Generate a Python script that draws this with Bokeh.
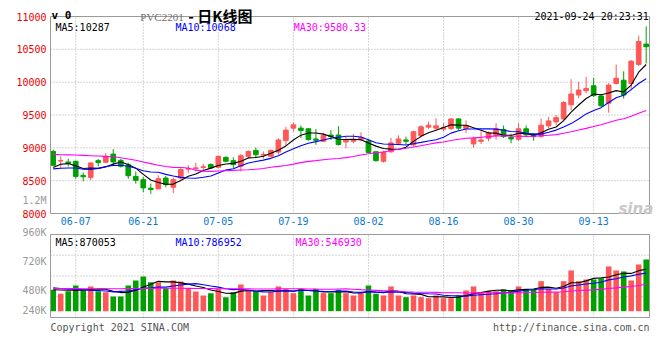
from bokeh.plotting import figure
from bokeh.layouts import column
from bokeh.models import (Range1d, FixedTicker, Label, ColumnDataSource, BoxAnnotation,
                          LinearAxis)
from bokeh.embed import file_html
from bokeh.resources import INLINE

# ---------------- data ----------------
dates = ["06-02", "06-03", "06-04", "06-07", "06-08", "06-09", "06-10", "06-11", "06-15", "06-16",
         "06-17", "06-18", "06-21", "06-22", "06-23", "06-24", "06-25", "06-28", "06-29", "06-30",
         "07-01", "07-02", "07-05", "07-06", "07-07", "07-08", "07-09", "07-12", "07-13", "07-14",
         "07-15", "07-16", "07-19", "07-20", "07-21", "07-22", "07-23", "07-26", "07-27", "07-28",
         "07-29", "07-30", "08-02", "08-03", "08-04", "08-05", "08-06", "08-09", "08-10", "08-11",
         "08-12", "08-13", "08-16", "08-17", "08-18", "08-19", "08-20", "08-23", "08-24", "08-25",
         "08-26", "08-27", "08-30", "08-31", "09-01", "09-02", "09-03", "09-06", "09-07", "09-08",
         "09-09", "09-10", "09-13", "09-14", "09-15", "09-16", "09-17", "09-22", "09-23", "09-24"]

opens = [8945, 8800, 8785, 8795, 8580, 8550, 8805, 8780, 8905, 8810,
         8740, 8565, 8515, 8385, 8375, 8540, 8400, 8540, 8675, 8685,
         8700, 8745, 8705, 8855, 8805, 8720, 8870, 8960, 8890, 8870,
         8935, 9110, 9300, 9300, 9290, 9135, 9100, 9195, 9195, 9090,
         9100, 9125, 9105, 8940, 8795, 8940, 9070, 9120, 9045, 9185,
         9315, 9300, 9285, 9295, 9440, 9295, 9060, 9100, 9145, 9190,
         9280, 9160, 9130, 9290, 9210, 9175, 9335, 9395, 9440, 9655,
         9805, 9870, 9945, 9790, 9680, 9980, 10030, 9980, 10270, 10580]

highs = [8970, 8870, 8835, 8805, 8625, 8775, 8830, 8920, 8980, 8830,
         8770, 8640, 8555, 8455, 8580, 8570, 8545, 8690, 8735, 8770,
         8755, 8765, 8880, 8870, 8855, 8905, 8960, 9005, 8945, 8975,
         9145, 9320, 9385, 9340, 9300, 9285, 9230, 9270, 9330, 9170,
         9210, 9235, 9130, 8950, 8955, 9150, 9190, 9170, 9260, 9345,
         9400, 9450, 9375, 9450, 9450, 9415, 9170, 9250, 9250, 9375,
         9340, 9215, 9375, 9340, 9225, 9445, 9470, 9500, 9710, 10045,
         10005, 10080, 10065, 9820, 9985, 10270, 10165, 10335, 10710, 10850]

lows = [8720, 8695, 8715, 8530, 8490, 8505, 8720, 8775, 8730, 8700,
        8530, 8455, 8325, 8300, 8370, 8400, 8310, 8520, 8615, 8640,
        8650, 8680, 8690, 8780, 8690, 8640, 8840, 8855, 8835, 8850,
        8895, 9030, 9250, 9150, 9110, 9045, 9090, 9120, 9035, 8995,
        9070, 9100, 8915, 8790, 8775, 8925, 9050, 9050, 9020, 9160,
        9290, 9265, 9255, 9270, 9275, 9225, 9000, 9060, 9100, 9125,
        9150, 9070, 9110, 9180, 9110, 9150, 9300, 9345, 9425, 9575,
        9755, 9830, 9775, 9615, 9535, 9965, 9750, 9875, 10245, 10285]

closes = [8735, 8805, 8765, 8565, 8560, 8770, 8775, 8870, 8785, 8720,
          8575, 8505, 8390, 8365, 8530, 8440, 8515, 8670, 8685, 8695,
          8712, 8695, 8870, 8795, 8745, 8880, 8945, 8895, 8900, 8960,
          9120, 9270, 9350, 9265, 9125, 9115, 9190, 9170, 9050, 9115,
          9120, 9160, 8930, 8805, 8935, 9075, 9135, 9100, 9245, 9320,
          9345, 9335, 9310, 9440, 9300, 9340, 9140, 9120, 9230, 9290,
          9170, 9135, 9290, 9200, 9170, 9345, 9410, 9460, 9690, 9820,
          9880, 9905, 9795, 9640, 9955, 10060, 9805, 10320, 10620, 10540]

volumes = [444000, 361000, 415000, 533000, 430000, 513000, 415000, 394000, 305000, 305000,
           533000, 637000, 720000, 602000, 602000, 477000, 637000, 616000, 477000, 409000,
           326000, 374000, 465000, 291000, 394000, 554000, 444000, 415000, 326000, 394000,
           513000, 465000, 374000, 465000, 326000, 465000, 374000, 374000, 444000, 374000,
           326000, 374000, 533000, 361000, 326000, 513000, 326000, 291000, 326000, 291000,
           270000, 326000, 270000, 270000, 326000, 430000, 513000, 394000, 415000, 415000,
           450000, 430000, 513000, 450000, 450000, 623000, 465000, 394000, 623000, 845000,
           623000, 658000, 658000, 685000, 928000, 845000, 824000, 637000, 969000, 1073000]

ma5 = [8700, 8750, 8760, 8725, 8686, 8693, 8687, 8708, 8752, 8784,
       8745, 8691, 8595, 8511, 8473, 8446, 8448, 8504, 8568, 8601,
       8655, 8691, 8731, 8753, 8763, 8797, 8847, 8852, 8873, 8916,
       8964, 9029, 9120, 9193, 9226, 9225, 9209, 9173, 9130, 9128,
       9129, 9123, 9075, 9026, 8990, 8981, 8976, 9010, 9098, 9175,
       9229, 9269, 9311, 9350, 9346, 9345, 9306, 9268, 9226, 9224,
       9190, 9189, 9223, 9217, 9193, 9228, 9283, 9317, 9415, 9545,
       9652, 9751, 9818, 9808, 9835, 9871, 9851, 9956, 10152, 10269]

ma10 = [8680, 8690, 8692, 8692, 8675, 8672, 8687, 8715, 8730, 8735,
        8719, 8689, 8652, 8632, 8629, 8596, 8570, 8550, 8540, 8537,
        8551, 8570, 8618, 8661, 8682, 8726, 8769, 8792, 8813, 8840,
        8881, 8938, 8986, 9033, 9071, 9095, 9119, 9147, 9162, 9177,
        9177, 9166, 9124, 9078, 9059, 9055, 9050, 9043, 9062, 9083,
        9105, 9123, 9161, 9224, 9261, 9287, 9288, 9290, 9288, 9285,
        9268, 9248, 9246, 9222, 9209, 9209, 9236, 9270, 9316, 9369,
        9440, 9517, 9568, 9612, 9690, 9762, 9801, 9887, 9980, 10052]

ma30 = [8900, 8895, 8893, 8890, 8885, 8880, 8875, 8870, 8865, 8850,
        8830, 8810, 8785, 8760, 8735, 8715, 8702, 8700, 8692, 8660,
        8645, 8641, 8648, 8652, 8656, 8662, 8667, 8673, 8685, 8704,
        8717, 8732, 8752, 8775, 8794, 8805, 8819, 8829, 8838, 8851,
        8869, 8891, 8909, 8924, 8937, 8959, 8979, 8994, 9012, 9033,
        9054, 9076, 9090, 9112, 9130, 9146, 9152, 9160, 9171, 9182,
        9183, 9179, 9177, 9175, 9176, 9184, 9191, 9201, 9222, 9246,
        9271, 9296, 9325, 9352, 9386, 9419, 9442, 9482, 9528, 9569]

vma5 = [445000, 440000, 435000, 436000, 437000, 450000, 461000, 457000, 411000, 386000,
        390000, 435000, 500000, 559000, 619000, 608000, 608000, 587000, 562000, 523000,
        493000, 440000, 410000, 373000, 370000, 416000, 430000, 420000, 427000, 427000,
        418000, 423000, 414000, 442000, 429000, 419000, 401000, 401000, 397000, 406000,
        378000, 378000, 410000, 394000, 384000, 421000, 412000, 363000, 356000, 349000,
        301000, 301000, 297000, 285000, 292000, 324000, 362000, 387000, 416000, 433000,
        437000, 421000, 445000, 452000, 459000, 493000, 500000, 476000, 511000, 590000,
        590000, 629000, 681000, 694000, 710000, 755000, 788000, 784000, 841000, 870000]

vma10 = [486000, 470000, 456000, 456000, 445000, 430000, 430000, 420000, 400000, 412000,
         420000, 448000, 479000, 485000, 503000, 499000, 521000, 543000, 561000, 571000,
         550000, 524000, 499000, 467000, 447000, 454000, 435000, 415000, 400000, 398000,
         417000, 426000, 417000, 434000, 428000, 419000, 412000, 408000, 419000, 417000,
         399000, 390000, 406000, 395000, 395000, 400000, 395000, 387000, 375000, 367000,
         361000, 356000, 330000, 321000, 321000, 313000, 331000, 342000, 351000, 363000,
         381000, 391000, 416000, 434000, 446000, 465000, 461000, 461000, 481000, 524000,
         542000, 564000, 579000, 602000, 650000, 672000, 708000, 733000, 767000, 790000]

vma30 = [470000, 470000, 468000, 468000, 466000, 466000, 465000, 465000, 465000, 466000,
         468000, 470000, 472000, 474000, 476000, 476000, 476000, 475000, 474000, 472000,
         470000, 468000, 466000, 465000, 464000, 463000, 462000, 461000, 460000, 460000,
         463000, 466000, 465000, 462000, 459000, 457000, 456000, 455000, 460000, 462000,
         455000, 447000, 440000, 432000, 423000, 424000, 414000, 403000, 398000, 394000,
         392000, 391000, 384000, 383000, 381000, 377000, 379000, 379000, 382000, 382000,
         380000, 379000, 384000, 383000, 387000, 393000, 396000, 396000, 402000, 418000,
         428000, 437000, 442000, 452000, 472000, 483000, 500000, 512000, 533000, 559000]

date_labels = ["06-07", "06-21", "07-05", "07-19", "08-02", "08-16", "08-30", "09-13"]
price_ticks = [8000, 8500, 9000, 9500, 10000, 10500, 11000]
vol_tick_labels = ["960K", "720K", "480K", "240K"]

title_code = "PVC2201"
title_cn = "- 日K线图"
stamp = "2021-09-24 20:23:31"
price_ma_text = ["MA5:10287", "MA10:10068", "MA30:9580.33"]
vol_ma_text = ["MA5:870053", "MA10:786952", "MA30:546930"]

# ---------------- styles / layout ----------------
RED = "#ff5757"
GREEN = "#00a000"
GRID = "#aaaaaa"
FRAME = "#9a9a9a"
MONO = "DejaVu Sans Mono"
MA_COLORS = ["#000000", "#0000ff", "#ff00ff"]
W = 657

n = len(dates)
xs = list(range(n))
colors = [RED if c >= o else GREEN for o, c in zip(opens, closes)]
src = ColumnDataSource(dict(
    x=xs, o=opens, h=highs, l=lows, c=closes,
    top=[max(o, c) for o, c in zip(opens, closes)],
    bot=[min(o, c) for o, c in zip(opens, closes)],
    color=colors, vol=volumes,
    ma5=ma5, ma10=ma10, ma30=ma30, vma5=vma5, vma10=vma10, vma30=vma30))
tick_idx = [dates.index(d) for d in date_labels]

# panel boxes span x = 50..649 px; the frames cover the whole canvas
X0, X1 = -0.36, 79.44
PX = 599.0 / (X1 - X0)
xr = Range1d(X0 - 50 / PX, X0 + (W - 50) / PX)

# price panel: box 197 px tall, 16 px header above it, 13 px (date row) below
P_LO, P_HI = 8000, 11000
PPX = (P_HI - P_LO) / 197.0
yr1 = Range1d(P_LO - 13 * PPX, P_HI + 16 * PPX)

# volume panel: box 83 px tall, 8 px above it, 18 px (footer) below
V_LO, V_HI = -131000, 1591000
VPX = (V_HI - V_LO) / 83.0
yr2 = Range1d(V_LO - 18 * VPX, V_HI + 8 * VPX)
vol_label_px = [-3.5, 26.8, 56.0, 76.0]  # label centres, px below the box top
vol_label_pos = [V_HI - d * VPX for d in vol_label_px]


def axis_style(ax, color, standoff=4):
    ax.axis_line_color = None
    ax.major_tick_line_color = None
    ax.minor_tick_line_color = None
    ax.major_tick_out = 0
    ax.major_tick_in = 0
    ax.major_label_text_font = MONO
    ax.major_label_text_font_size = "10px"
    ax.major_label_text_color = color
    ax.major_label_standoff = standoff


def new_fig(height, yr):
    p = figure(width=W, height=height, x_range=xr, y_range=yr, min_border=0,
               min_border_left=0, min_border_right=0, min_border_top=0, min_border_bottom=0,
               toolbar_location=None, output_backend="svg", title=None)
    p.outline_line_color = None
    p.background_fill_color = "white"
    p.border_fill_color = "white"
    p.xgrid.visible = False
    p.ygrid.visible = False
    return p


def grid(p, lo, hi, hticks):
    p.segment(x0=tick_idx, x1=tick_idx, y0=[lo] * len(tick_idx), y1=[hi] * len(tick_idx),
              line_color=GRID, line_dash="1 2", line_width=1)
    p.segment(x0=[X0] * len(hticks), x1=[X1] * len(hticks), y0=hticks, y1=hticks,
              line_color=GRID, line_dash="1 2", line_width=1)


def box(p, lo, hi):
    p.add_layout(BoxAnnotation(left=X0, right=X1, bottom=lo, top=hi, fill_color=None,
                               fill_alpha=0, line_color=FRAME, line_alpha=1, line_width=1))


def lab(p, x, y, text, color="#000000", size="10px", font=MONO, align="left",
        baseline="alphabetic", yoff=0, fstyle="normal"):
    p.add_layout(Label(x=x, y=y, text=text, text_color=color, text_font_size=size,
                       text_font=font, text_align=align, text_baseline=baseline,
                       y_offset=yoff, text_font_style=fstyle))


# ---------------- price panel ----------------
p1 = new_fig(226, yr1)
grid(p1, P_LO, P_HI, price_ticks[1:-1])
p1.segment(x0="x", y0="l", x1="x", y1="h", color="color", line_width=1, source=src)
p1.vbar(x="x", width=0.62, top="top", bottom="bot", fill_color="color",
        line_color="color", line_width=1, source=src)
for key, col in zip(["ma5", "ma10", "ma30"], MA_COLORS):
    p1.line("x", key, color=col, line_width=1.1, source=src)
box(p1, P_LO, P_HI)

ya = p1.yaxis[0]
ya.fixed_location = X0
ya.ticker = FixedTicker(ticks=price_ticks, minor_ticks=[])
axis_style(ya, "#ee0000")

xa = p1.xaxis[0]
xa.fixed_location = P_LO
xa.ticker = FixedTicker(ticks=tick_idx, minor_ticks=[])
xa.major_label_overrides = {i: d for i, d in zip(tick_idx, date_labels)}
axis_style(xa, "#0a78d0", standoff=3)

m_ax = LinearAxis(fixed_location=X0, ticker=FixedTicker(ticks=[8193], minor_ticks=[]),
                  major_label_overrides={8193: "1.2M"})
axis_style(m_ax, "#999999")
p1.add_layout(m_ax, "left")

# header row (inside the frame, above the box)
lab(p1, -0.23, P_HI, "v 0", size="11px", yoff=1, fstyle="bold")
lab(p1, 11.6, P_HI, title_code, color="#707070", size="11px", font="Liberation Serif", yoff=0)
lab(p1, 18.0, P_HI, title_cn, size="15px", font="Noto Sans CJK SC", yoff=1, fstyle="bold")
lab(p1, 79.35, P_HI, stamp, align="right", yoff=0)
for t, xpos, col in zip(price_ma_text, [0.31, 16.29, 32.05], MA_COLORS):
    lab(p1, xpos, P_HI, t, color=col, yoff=-11.3)
lab(p1, 75.3, P_LO + 5 * PPX, "sina", color="#c8c8c8", size="15px", font="DejaVu Sans",
    fstyle="bold italic")

# ---------------- volume panel ----------------
p2 = new_fig(109, yr2)
p2.xaxis.visible = False
grid(p2, V_LO, V_HI, [V_LO + (V_HI - V_LO) * k / 4 for k in (1, 2, 3)])
p2.vbar(x="x", width=0.74, top="vol", bottom=0, fill_color="color", line_color=None, source=src)
for key, col in zip(["vma5", "vma10", "vma30"], MA_COLORS):
    p2.line("x", key, color=col, line_width=1.1, source=src)
box(p2, V_LO, V_HI)

va = p2.yaxis[0]
va.fixed_location = X0
va.ticker = FixedTicker(ticks=vol_label_pos, minor_ticks=[])
va.major_label_overrides = {v: t for v, t in zip(vol_label_pos, vol_tick_labels)}
axis_style(va, "#999999")

for t, xpos, col in zip(vol_ma_text, [0.31, 16.29, 32.28], MA_COLORS):
    lab(p2, xpos, V_HI, t, color=col, yoff=-7.7)
lab(p2, X0, V_LO, "Copyright 2021 SINA.COM", color="#555555", yoff=-9.5)
lab(p2, X1, V_LO, "http://finance.sina.com.cn", color="#555555", align="right", yoff=-9.5)

layout = column(p1, p2, spacing=0)
open("out.html", "w").write(file_html(layout, INLINE))
